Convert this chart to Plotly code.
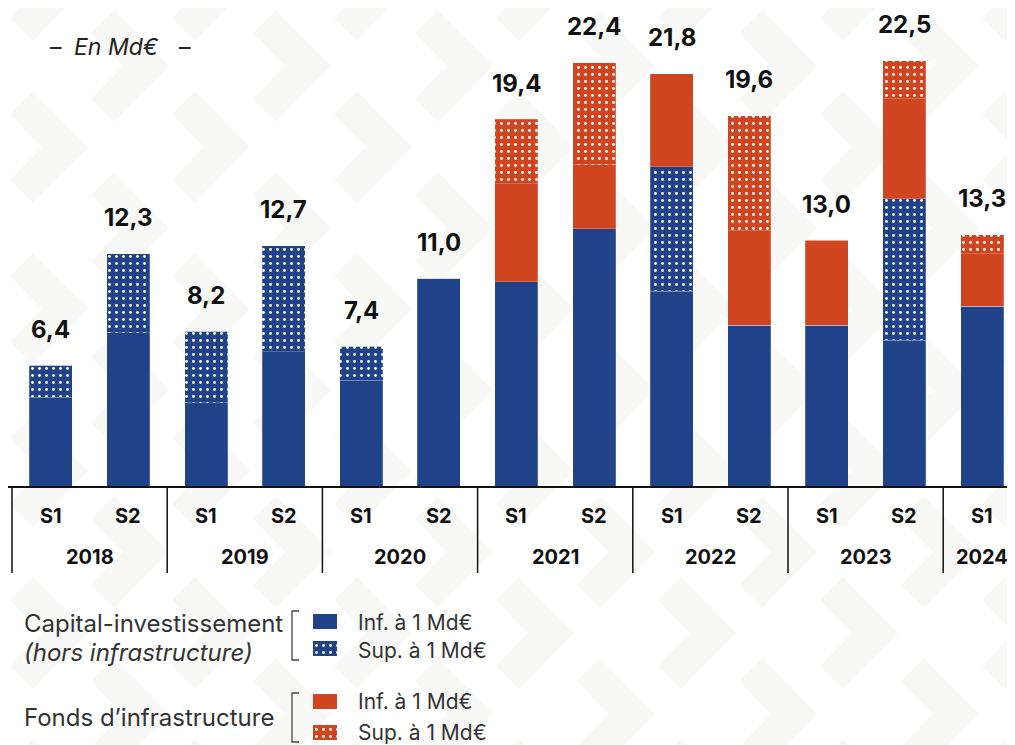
import plotly.graph_objects as go

# data (Md€)
years = ["2018", "2018", "2019", "2019", "2020", "2020", "2021", "2021",
         "2022", "2022", "2023", "2023", "2024"]
halves = ["S1", "S2", "S1", "S2", "S1", "S2", "S1", "S2", "S1", "S2", "S1", "S2", "S1"]
pe_small = [4.7, 8.1, 4.4, 7.1, 5.6, 11.0, 10.8, 13.6, 10.3, 8.5, 8.5, 7.7, 9.5]
pe_large = [1.7, 4.2, 3.8, 5.6, 1.8, 0, 0, 0, 6.6, 0, 0, 7.5, 0]
infra_small = [0, 0, 0, 0, 0, 0, 5.2, 3.4, 4.9, 5.0, 4.5, 5.3, 2.8]
infra_large = [0, 0, 0, 0, 0, 0, 3.4, 5.4, 0, 6.1, 0, 2.0, 1.0]
totals = [6.4, 12.3, 8.2, 12.7, 7.4, 11.0, 19.4, 22.4, 21.8, 19.6, 13.0, 22.5, 13.3]

legend_groups = ["Capital-investissement", "<i>(hors infrastructure)</i>", "Fonds d\u2019infrastructure"]
legend_items = ["Inf. à 1 Md€", "Sup. à 1 Md€", "Inf. à 1 Md€", "Sup. à 1 Md€"]

BLUE = "#1f4288"
RED = "#cf4520"
BG_MARK = "#f8f8f6"
FONT = "Inter, Lato, sans-serif"
W, H = 1015, 745      # browser window
OFF = 8               # page body margin
FW, FH = W - OFF, H - OFF
BASE_PX = 486         # window row of the baseline
CAT_PX = 77.6         # width of one category in pixels
labels = [f"{y} {h}" for y, h in zip(years, halves)]


# window pixels -> paper coords
def px_x(x):
    return (x - OFF) / FW


def px_y(y):
    return 1 - (y - OFF) / FH


fig = go.Figure()

series = [
    (pe_small, BLUE, ""),
    (pe_large, BLUE, "."),
    (infra_small, RED, ""),
    (infra_large, RED, "."),
]
for vals, col, pat in series:
    fig.add_trace(go.Bar(
        x=labels, y=vals,
        marker=dict(color=col, line=dict(width=0.7, color="rgba(255,255,255,0.3)"),
                    pattern=dict(shape=pat, fgcolor="white", fgopacity=1,
                                 size=7, solidity=0.13, fillmode="overlay")),
        showlegend=False, hoverinfo="skip",
    ))

# legend swatches on a small helper axis (y values = window rows)
sw_rows = [621.5, 648.5, 701, 732.5]
fig.add_trace(go.Bar(
    x=[1, 1, 1, 1], y=sw_rows, orientation="h", width=15,
    xaxis="x2", yaxis="y2",
    marker=dict(color=[BLUE, BLUE, RED, RED], line=dict(width=0),
                pattern=dict(shape=["", ".", "", "."], fgcolor="white", fgopacity=1,
                             size=7, solidity=0.13, fillmode="overlay")),
    showlegend=False, hoverinfo="skip",
))

annotations = []
# totals above bars
for lab, tot in zip(labels, totals):
    annotations.append(dict(
        x=lab, y=tot, xref="x", yref="y", text=f"{tot:.1f}".replace(".", ","),
        showarrow=False, yanchor="middle", yshift=36,
        font=dict(family=FONT, size=24, color="#111111", weight=700),
    ))

# S1 / S2 labels
for i, h in enumerate(halves):
    annotations.append(dict(
        x=i, y=0, xref="x", yref="y domain", text=h, showarrow=False,
        yanchor="middle", yshift=-30,
        font=dict(family=FONT, size=20, color="#111111", weight=700),
    ))

# year labels and dividers
shapes = []
for yr in dict.fromkeys(years):
    idx = [i for i, y in enumerate(years) if y == yr]
    annotations.append(dict(
        x=sum(idx) / len(idx), y=0, xref="x", yref="y domain", text=yr,
        showarrow=False, yanchor="middle", yshift=-71,
        font=dict(family=FONT, size=20, color="#111111", weight=700),
    ))
    shapes.append(dict(
        type="line", xref="x", yref="y domain", x0=idx[0] - 0.5, x1=idx[0] - 0.5,
        y0=0, y1=-87 / (BASE_PX - OFF), line=dict(color="#111111", width=1.5),
        layer="above",
    ))

# unit note
for txt, x in [("–", 48), ("<i>En Md€</i>", 72), ("–", 177)]:
    annotations.append(dict(
        x=px_x(x), y=px_y(47), xref="paper", yref="paper", xanchor="left",
        yanchor="middle", text=txt, showarrow=False,
        font=dict(family=FONT, size=23, color="#222222"),
    ))

# legend texts
grp_rows = [623, 652, 717]
for txt, row in zip(legend_groups, grp_rows):
    annotations.append(dict(
        x=px_x(22), y=px_y(row), xref="paper", yref="paper", xanchor="left",
        yanchor="middle", text=txt, showarrow=False,
        font=dict(family=FONT, size=24, color="#333333"),
    ))
item_rows = [622, 650, 701, 732]
for txt, row in zip(legend_items, item_rows):
    annotations.append(dict(
        x=px_x(356), y=px_y(row), xref="paper", yref="paper", xanchor="left",
        yanchor="middle", text=txt, showarrow=False,
        font=dict(family=FONT, size=21, color="#333333"),
    ))

# brackets
for top, bot in [(611, 660), (693, 742)]:
    path = (f"M {px_x(299)},{px_y(top)} L {px_x(292)},{px_y(top)} "
            f"L {px_x(292)},{px_y(bot)} L {px_x(299)},{px_y(bot)}")
    shapes.append(dict(type="path", xref="paper", yref="paper", path=path,
                       line=dict(color="#444444", width=1.3)))

# background chevron watermark
for a in range(-2, 14):
    for b in range(-3, 9):
        if (a + b) % 2:
            continue
        tx, ty = 88 + 81 * a, 147 + 81 * b
        pts = [(tx - 55, ty - 56), (tx, ty), (tx - 55, ty + 56),
               (tx - 78, ty + 33), (tx - 46, ty), (tx - 78, ty - 33)]
        path = "M " + " L ".join(f"{px_x(x):.4f},{px_y(y):.4f}" for x, y in pts) + " Z"
        shapes.append(dict(type="path", xref="paper", yref="paper", path=path,
                           fillcolor=BG_MARK, line=dict(width=0), layer="below"))

x_start = -0.5 - (12 - OFF) / CAT_PX
fig.update_layout(
    width=FW, height=FH,
    margin=dict(l=0, r=0, t=0, b=0),
    barmode="stack", bargap=0.446,
    paper_bgcolor="white", plot_bgcolor="rgba(0,0,0,0)",
    xaxis=dict(type="category", domain=[0, 1],
               range=[x_start, x_start + FW / CAT_PX],
               showticklabels=False, ticks="", showgrid=False, zeroline=False,
               showline=True, linecolor="#111111", linewidth=2, fixedrange=True),
    yaxis=dict(domain=[1 - (BASE_PX - OFF) / FH, 1], range=[0, (BASE_PX - OFF) / 18.9],
               visible=False, fixedrange=True),
    xaxis2=dict(domain=[px_x(313), px_x(337)], range=[0, 1], visible=False, anchor="y2"),
    yaxis2=dict(domain=[0, px_y(600)], range=[745, 600], visible=False, anchor="x2"),
    annotations=annotations,
    shapes=shapes,
    showlegend=False,
)

fig.write_html("out.html")
